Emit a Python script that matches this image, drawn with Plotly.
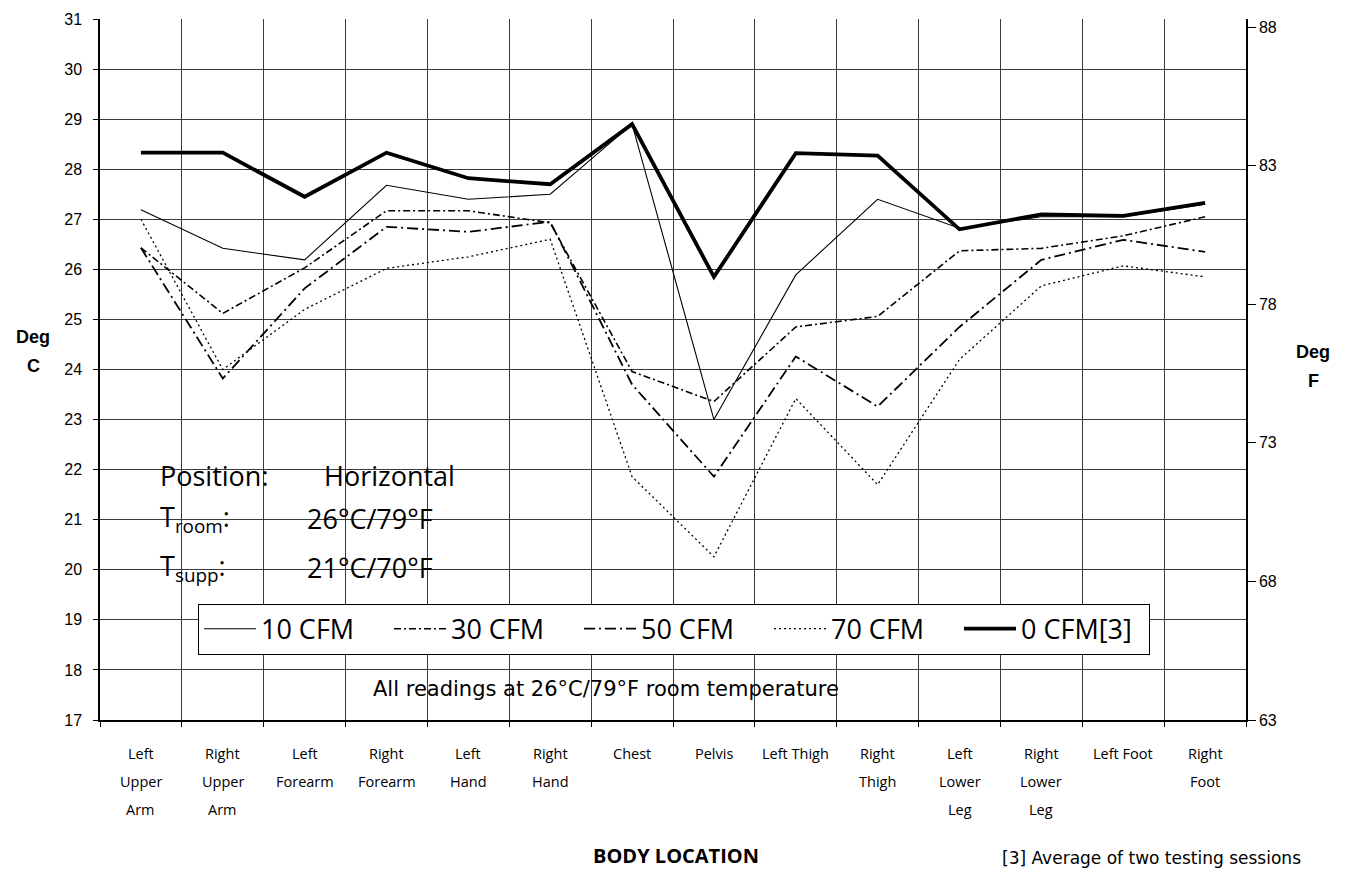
import plotly.graph_objects as go

categories = ["Left Upper Arm", "Right Upper Arm", "Left Forearm", "Right Forearm",
              "Left Hand", "Right Hand", "Chest", "Pelvis", "Left Thigh", "Right Thigh",
              "Left Lower Leg", "Right Lower Leg", "Left Foot", "Right Foot"]
tick_lines = [["Left", "Upper", "Arm"], ["Right", "Upper", "Arm"], ["Left", "Forearm"],
              ["Right", "Forearm"], ["Left", "Hand"], ["Right", "Hand"], ["Chest"], ["Pelvis"],
              ["Left Thigh"], ["Right", "Thigh"], ["Left", "Lower", "Leg"],
              ["Right", "Lower", "Leg"], ["Left Foot"], ["Right", "Foot"]]

cfm10 = [27.19, 26.42, 26.19, 27.68, 27.40, 27.50, 28.90, 23.00, 25.89, 27.40, 26.82, 27.05, 27.05, 27.30]
cfm30 = [26.43, 25.12, 26.03, 27.17, 27.17, 26.93, 23.96, 23.36, 24.85, 25.06, 26.37, 26.42, 26.67, 27.05]
cfm50 = [26.43, 23.82, 25.62, 26.85, 26.75, 26.95, 23.70, 21.86, 24.26, 23.26, 24.85, 26.19, 26.59, 26.35]
cfm70 = [27.00, 24.00, 25.20, 26.02, 26.25, 26.60, 21.86, 20.26, 23.42, 21.70, 24.20, 25.67, 26.07, 25.85]
cfm0 = [28.33, 28.33, 27.45, 28.33, 27.82, 27.70, 28.90, 25.85, 28.32, 28.27, 26.80, 27.10, 27.07, 27.33]

series_names = ["10 CFM", "30 CFM", "50 CFM", "70 CFM", "0 CFM[3]"]
c_ticks = list(range(17, 32))
f_ticks = [63, 68, 73, 78, 83, 88]

GOTHIC = "Open Sans, Lato, sans-serif"
ARIAL = "Liberation Sans, Arial, sans-serif"
WIDE = "DejaVu Sans, sans-serif"

styles = [
    dict(width=1.1, dash="solid"),
    dict(width=1.6, dash="7px,3px,2px,3px"),
    dict(width=1.8, dash="11px,4px,2px,4px"),
    dict(width=1.3, dash="2px,3px"),
    dict(width=3.8, dash="solid"),
]

fig = go.Figure()
for name, vals, st in zip(series_names, [cfm10, cfm30, cfm50, cfm70, cfm0], styles):
    fig.add_trace(go.Scatter(x=categories, y=vals, mode="lines", name=name,
                             line=dict(color="black", width=st["width"], dash=st["dash"])))

# invisible trace to bind the Fahrenheit axis
fig.add_trace(go.Scatter(x=categories[:1], y=[None], yaxis="y2", showlegend=False,
                         mode="lines", hoverinfo="skip"))

# page has an 8px body margin; plot area in page pixels: x 100..1246, y 19..720
fig.update_layout(
    width=1340, height=861,
    margin=dict(l=92, r=102, t=11, b=149, autoexpand=False),
    plot_bgcolor="white", paper_bgcolor="white",
    showlegend=True,
    legend=dict(orientation="h", x=0.0855, y=0.166, xanchor="left", yanchor="top",
                bgcolor="white", bordercolor="black", borderwidth=1,
                font=dict(family=GOTHIC, size=27, color="black"),
                entrywidth=123, itemwidth=52, traceorder="normal"),
    xaxis=dict(type="category", categoryorder="array", categoryarray=categories,
               range=[-0.5, 13.5], tickson="boundaries", showgrid=True,
               gridcolor="#3a3a3a", gridwidth=1, ticks="outside", ticklen=5,
               tickcolor="black", showticklabels=False, showline=True,
               linecolor="black", linewidth=1.5, zeroline=False, automargin=False),
    yaxis=dict(range=[17, 31], tickvals=c_ticks, showgrid=True, gridcolor="#3a3a3a",
               gridwidth=1, ticks="outside", ticklen=5, tickcolor="black",
               ticklabelstandoff=8, automargin=False,
               showline=True, linecolor="black", linewidth=1.5, zeroline=False,
               tickfont=dict(family=ARIAL, size=16, color="black")),
    yaxis2=dict(overlaying="y", side="right", range=[63, 88.29], tickvals=f_ticks,
                showgrid=False, ticks="outside", ticklen=8, tickcolor="black",
                automargin=False,
                showline=True, linecolor="black", linewidth=1.5, zeroline=False,
                tickfont=dict(family=ARIAL, size=16, color="black")),
)

ann = []
# x tick labels, one annotation per line
row_y = [753, 781, 809]
for cat, lines in zip(categories, tick_lines):
    for i, ln in enumerate(lines):
        ann.append(dict(x=cat, xref="x", y=(720 - row_y[i]) / 701, yref="paper",
                        text=ln, showarrow=False, xanchor="center", yanchor="middle",
                        font=dict(family=GOTHIC, size=14.5, color="black")))

def px(xp):
    return (xp - 100) / 1146

def py(yp):
    return (720 - yp) / 701

# axis titles
for txt, x, y in [("Deg", 33, 337), ("C", 33, 366), ("Deg", 1313, 352), ("F", 1313, 381)]:
    ann.append(dict(x=px(x), y=py(y), xref="paper", yref="paper", text="<b>%s</b>" % txt,
                    showarrow=False, xanchor="center", yanchor="middle",
                    font=dict(family=ARIAL, size=18, color="black")))

ann.append(dict(x=px(676), y=py(855), xref="paper", yref="paper",
                text="<b>BODY LOCATION</b>", showarrow=False, xanchor="center",
                yanchor="middle", font=dict(family=GOTHIC, size=20, color="black")))
ann.append(dict(x=px(1000), y=py(858), xref="paper", yref="paper",
                text="[3] Average of two testing sessions", showarrow=False,
                xanchor="left", yanchor="middle",
                font=dict(family=WIDE, size=17, color="black")))
ann.append(dict(x=px(606), y=py(689), xref="paper", yref="paper",
                text="All readings at 26°C/79°F room temperature", showarrow=False,
                xanchor="center", yanchor="middle",
                font=dict(family=WIDE, size=21, color="black")))

# condition box text
for txt, x, y in [("Position:", 158, 475), ("Horizontal", 322, 475),
                  ("T<sub>room</sub>:", 158, 518), ("26°C/79°F", 305, 518),
                  ("T<sub>supp</sub>:", 158, 567), ("21°C/70°F", 305, 567)]:
    ann.append(dict(x=px(x), y=py(y), xref="paper", yref="paper", text=txt,
                    showarrow=False, xanchor="left", yanchor="middle",
                    font=dict(family=GOTHIC, size=27, color="black")))

fig.update_layout(annotations=ann)
fig.write_html("out.html")
